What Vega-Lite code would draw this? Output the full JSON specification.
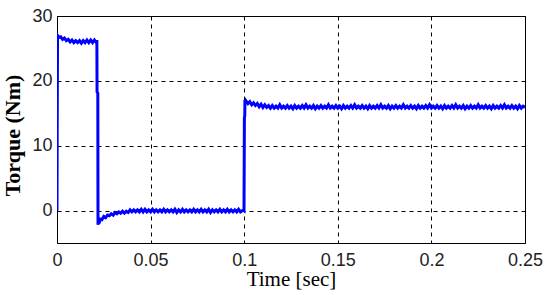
{
  "$schema": "https://vega.github.io/schema/vega-lite/v6.json",
  "width": 468,
  "height": 227,
  "autosize": {"type": "none"},
  "padding": {"left": 57, "top": 16, "right": 25, "bottom": 52},
  "background": "white",
  "config": {
    "view": {"stroke": "black", "strokeWidth": 1},
    "font": "Liberation Serif",
    "axis": {
      "gridColor": "black",
      "gridDash": [4, 4],
      "gridOpacity": 1,
      "gridWidth": 1,
      "domain": false,
      "ticks": false,
      "labelFont": "Liberation Sans",
      "labelFontSize": 18,
      "labelColor": "#222222",
      "titleFont": "Liberation Serif",
      "titleColor": "black"
    }
  },
  "data": {
    "values": [
      {"t": 0, "v": 0}, {"t": 0.0001, "v": 12.5}, {"t": 0.0003, "v": 27.0}, {"t": 0.001, "v": 26.7},
      {"t": 0.002, "v": 26.8}, {"t": 0.003, "v": 26.4}, {"t": 0.004, "v": 26.6}, {"t": 0.005, "v": 26.2},
      {"t": 0.006, "v": 26.4}, {"t": 0.007, "v": 26.0}, {"t": 0.008, "v": 26.3}, {"t": 0.009, "v": 25.9},
      {"t": 0.010, "v": 26.2}, {"t": 0.011, "v": 25.9}, {"t": 0.012, "v": 26.2}, {"t": 0.013, "v": 25.8},
      {"t": 0.014, "v": 26.2}, {"t": 0.015, "v": 25.9}, {"t": 0.016, "v": 26.3}, {"t": 0.017, "v": 25.9},
      {"t": 0.018, "v": 26.3}, {"t": 0.019, "v": 25.9}, {"t": 0.020, "v": 26.3}, {"t": 0.021, "v": 25.9},
      {"t": 0.0213, "v": 26.3}, {"t": 0.0214, "v": 18.3}, {"t": 0.0218, "v": 18.1}, {"t": 0.0219, "v": -2.2},
      {"t": 0.0222, "v": -1.6}, {"t": 0.0225, "v": -2.0}, {"t": 0.023, "v": -1.3}, {"t": 0.024, "v": -1.4},
      {"t": 0.025, "v": -0.9}, {"t": 0.026, "v": -1.1}, {"t": 0.027, "v": -0.7}, {"t": 0.028, "v": -0.8},
      {"t": 0.029, "v": -0.5}, {"t": 0.030, "v": -0.7}, {"t": 0.031, "v": -0.3}, {"t": 0.032, "v": -0.5},
      {"t": 0.033, "v": -0.2}, {"t": 0.034, "v": -0.4}, {"t": 0.035, "v": -0.1}, {"t": 0.036, "v": -0.4},
      {"t": 0.037, "v": -0.1}, {"t": 0.038, "v": -0.3}, {"t": 0.039, "v": 0.1}, {"t": 0.040, "v": -0.2},
      {"t": 0.041, "v": 0.1}, {"t": 0.042, "v": -0.2}, {"t": 0.043, "v": 0.1}, {"t": 0.044, "v": -0.2},
      {"t": 0.045, "v": 0.2}, {"t": 0.046, "v": -0.2}, {"t": 0.047, "v": 0.2}, {"t": 0.048, "v": -0.2},
      {"t": 0.049, "v": 0.1}, {"t": 0.050, "v": -0.2}, {"t": 0.051, "v": 0.2}, {"t": 0.052, "v": -0.2},
      {"t": 0.053, "v": 0.1}, {"t": 0.054, "v": -0.2}, {"t": 0.055, "v": 0.1}, {"t": 0.056, "v": -0.2},
      {"t": 0.057, "v": 0.2}, {"t": 0.058, "v": -0.2}, {"t": 0.059, "v": 0.1}, {"t": 0.060, "v": -0.2},
      {"t": 0.061, "v": 0.1}, {"t": 0.062, "v": -0.2}, {"t": 0.063, "v": 0.2}, {"t": 0.064, "v": -0.3},
      {"t": 0.065, "v": 0.1}, {"t": 0.066, "v": -0.2}, {"t": 0.067, "v": 0.2}, {"t": 0.068, "v": -0.2},
      {"t": 0.069, "v": 0.1}, {"t": 0.070, "v": -0.2}, {"t": 0.071, "v": 0.1}, {"t": 0.072, "v": -0.2},
      {"t": 0.073, "v": 0.2}, {"t": 0.074, "v": -0.2}, {"t": 0.075, "v": 0.1}, {"t": 0.076, "v": -0.2},
      {"t": 0.077, "v": 0.2}, {"t": 0.078, "v": -0.2}, {"t": 0.079, "v": 0.1}, {"t": 0.080, "v": -0.2},
      {"t": 0.081, "v": 0.2}, {"t": 0.082, "v": -0.3}, {"t": 0.083, "v": 0.1}, {"t": 0.084, "v": -0.2},
      {"t": 0.085, "v": 0.1}, {"t": 0.086, "v": -0.2}, {"t": 0.087, "v": 0.2}, {"t": 0.088, "v": -0.2},
      {"t": 0.089, "v": 0.1}, {"t": 0.090, "v": -0.2}, {"t": 0.091, "v": 0.2}, {"t": 0.092, "v": -0.2},
      {"t": 0.093, "v": 0.1}, {"t": 0.094, "v": -0.2}, {"t": 0.095, "v": 0.1}, {"t": 0.096, "v": -0.2},
      {"t": 0.097, "v": 0.2}, {"t": 0.098, "v": -0.2}, {"t": 0.0995, "v": 0.1}, {"t": 0.0999, "v": 0.0},
      {"t": 0.1001, "v": 14.3}, {"t": 0.1003, "v": 14.6}, {"t": 0.1004, "v": 17.1}, {"t": 0.1008, "v": 16.6},
      {"t": 0.101, "v": 16.9}, {"t": 0.102, "v": 16.5}, {"t": 0.103, "v": 16.8}, {"t": 0.104, "v": 16.3},
      {"t": 0.105, "v": 16.6}, {"t": 0.106, "v": 16.2}, {"t": 0.107, "v": 16.5}, {"t": 0.108, "v": 16.0},
      {"t": 0.109, "v": 16.4}, {"t": 0.110, "v": 15.9}, {"t": 0.111, "v": 16.3}, {"t": 0.112, "v": 15.9},
      {"t": 0.113, "v": 16.2}, {"t": 0.114, "v": 15.8}, {"t": 0.115, "v": 16.2}, {"t": 0.116, "v": 15.8},
      {"t": 0.117, "v": 16.1}, {"t": 0.118, "v": 15.8}, {"t": 0.119, "v": 16.3}, {"t": 0.120, "v": 15.8},
      {"t": 0.121, "v": 16.1}, {"t": 0.122, "v": 15.8}, {"t": 0.123, "v": 16.2}, {"t": 0.124, "v": 15.8},
      {"t": 0.125, "v": 16.1}, {"t": 0.126, "v": 15.7}, {"t": 0.127, "v": 16.2}, {"t": 0.128, "v": 15.8},
      {"t": 0.129, "v": 16.1}, {"t": 0.130, "v": 15.8}, {"t": 0.131, "v": 16.2}, {"t": 0.132, "v": 15.8},
      {"t": 0.133, "v": 16.3}, {"t": 0.134, "v": 15.8}, {"t": 0.135, "v": 16.1}, {"t": 0.136, "v": 15.8},
      {"t": 0.137, "v": 16.2}, {"t": 0.138, "v": 15.7}, {"t": 0.139, "v": 16.1}, {"t": 0.140, "v": 15.8},
      {"t": 0.141, "v": 16.2}, {"t": 0.142, "v": 15.8}, {"t": 0.143, "v": 16.1}, {"t": 0.144, "v": 15.8},
      {"t": 0.145, "v": 16.3}, {"t": 0.146, "v": 15.8}, {"t": 0.147, "v": 16.1}, {"t": 0.148, "v": 15.8},
      {"t": 0.149, "v": 16.2}, {"t": 0.150, "v": 15.8}, {"t": 0.151, "v": 16.1}, {"t": 0.152, "v": 15.7},
      {"t": 0.153, "v": 16.2}, {"t": 0.154, "v": 15.8}, {"t": 0.155, "v": 16.1}, {"t": 0.156, "v": 15.8},
      {"t": 0.157, "v": 16.2}, {"t": 0.158, "v": 15.8}, {"t": 0.159, "v": 16.3}, {"t": 0.160, "v": 15.8},
      {"t": 0.161, "v": 16.1}, {"t": 0.162, "v": 15.8}, {"t": 0.163, "v": 16.2}, {"t": 0.164, "v": 15.8},
      {"t": 0.165, "v": 16.1}, {"t": 0.166, "v": 15.7}, {"t": 0.167, "v": 16.2}, {"t": 0.168, "v": 15.8},
      {"t": 0.169, "v": 16.1}, {"t": 0.170, "v": 15.8}, {"t": 0.171, "v": 16.2}, {"t": 0.172, "v": 15.8},
      {"t": 0.173, "v": 16.3}, {"t": 0.174, "v": 15.8}, {"t": 0.175, "v": 16.1}, {"t": 0.176, "v": 15.8},
      {"t": 0.177, "v": 16.2}, {"t": 0.178, "v": 15.7}, {"t": 0.179, "v": 16.1}, {"t": 0.180, "v": 15.8},
      {"t": 0.181, "v": 16.2}, {"t": 0.182, "v": 15.8}, {"t": 0.183, "v": 16.1}, {"t": 0.184, "v": 15.8},
      {"t": 0.185, "v": 16.3}, {"t": 0.186, "v": 15.8}, {"t": 0.187, "v": 16.1}, {"t": 0.188, "v": 15.8},
      {"t": 0.189, "v": 16.2}, {"t": 0.190, "v": 15.8}, {"t": 0.191, "v": 16.1}, {"t": 0.192, "v": 15.7},
      {"t": 0.193, "v": 16.2}, {"t": 0.194, "v": 15.8}, {"t": 0.195, "v": 16.1}, {"t": 0.196, "v": 15.8},
      {"t": 0.197, "v": 16.2}, {"t": 0.198, "v": 15.8}, {"t": 0.199, "v": 16.3}, {"t": 0.200, "v": 15.8},
      {"t": 0.201, "v": 16.1}, {"t": 0.202, "v": 15.8}, {"t": 0.203, "v": 16.2}, {"t": 0.204, "v": 15.8},
      {"t": 0.205, "v": 16.1}, {"t": 0.206, "v": 15.7}, {"t": 0.207, "v": 16.2}, {"t": 0.208, "v": 15.8},
      {"t": 0.209, "v": 16.1}, {"t": 0.210, "v": 15.8}, {"t": 0.211, "v": 16.2}, {"t": 0.212, "v": 15.8},
      {"t": 0.213, "v": 16.3}, {"t": 0.214, "v": 15.8}, {"t": 0.215, "v": 16.1}, {"t": 0.216, "v": 15.8},
      {"t": 0.217, "v": 16.2}, {"t": 0.218, "v": 15.7}, {"t": 0.219, "v": 16.1}, {"t": 0.220, "v": 15.8},
      {"t": 0.221, "v": 16.2}, {"t": 0.222, "v": 15.8}, {"t": 0.223, "v": 16.1}, {"t": 0.224, "v": 15.8},
      {"t": 0.225, "v": 16.3}, {"t": 0.226, "v": 15.8}, {"t": 0.227, "v": 16.1}, {"t": 0.228, "v": 15.8},
      {"t": 0.229, "v": 16.2}, {"t": 0.230, "v": 15.8}, {"t": 0.231, "v": 16.1}, {"t": 0.232, "v": 15.7},
      {"t": 0.233, "v": 16.2}, {"t": 0.234, "v": 15.8}, {"t": 0.235, "v": 16.1}, {"t": 0.236, "v": 15.8},
      {"t": 0.237, "v": 16.2}, {"t": 0.238, "v": 15.8}, {"t": 0.239, "v": 16.3}, {"t": 0.240, "v": 15.8},
      {"t": 0.241, "v": 16.1}, {"t": 0.242, "v": 15.8}, {"t": 0.243, "v": 16.2}, {"t": 0.244, "v": 15.8},
      {"t": 0.245, "v": 16.1}, {"t": 0.246, "v": 15.7}, {"t": 0.247, "v": 16.2}, {"t": 0.248, "v": 15.8},
      {"t": 0.249, "v": 16.1}, {"t": 0.250, "v": 15.9}
    ]
  },
  "mark": {"type": "line", "color": "#0000ff", "strokeWidth": 3, "clip": true},
  "encoding": {
    "x": {
      "field": "t",
      "type": "quantitative",
      "scale": {"domain": [0, 0.25], "nice": false, "zero": false},
      "axis": {
        "values": [0, 0.05, 0.1, 0.15, 0.2, 0.25],
        "format": "~g",
        "labelPadding": 8,
        "labelFlush": false,
        "title": "Time [sec]",
        "titleFontSize": 21,
        "titleFontWeight": "normal",
        "titleAnchor": "middle",
        "titleBaseline": "alphabetic",
        "titleY": 42
      }
    },
    "y": {
      "field": "v",
      "type": "quantitative",
      "scale": {"domain": [-5, 30], "nice": false, "zero": false},
      "axis": {
        "values": [0, 10, 20, 30],
        "labelPadding": 5,
        "labelFlush": false,
        "title": "Torque (Nm)",
        "titleFontSize": 22,
        "titleFontWeight": "bold",
        "titleAngle": -90,
        "titleAlign": "center",
        "titleBaseline": "alphabetic",
        "titleX": -38,
        "titleY": 119
      }
    }
  }
}
